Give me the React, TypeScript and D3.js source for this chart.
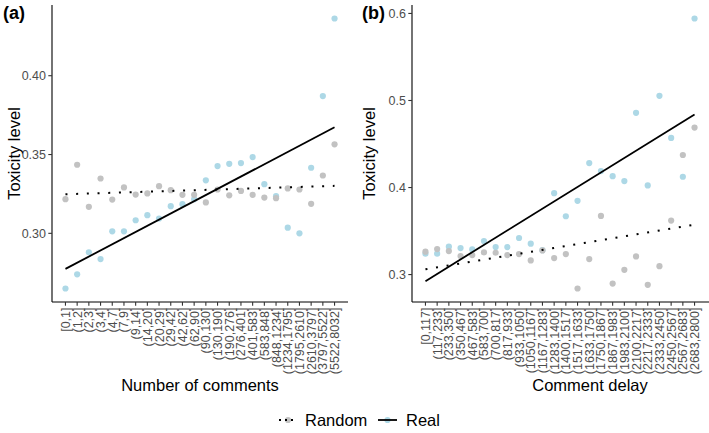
import React from 'react';
import * as d3 from 'd3';

// bins on the x axis
const commentBins = [
  "[0,1]", "(1,2]", "(2,3]", "(3,4]", "(4,7]", "(7,9]", "(9,14]", "(14,20]",
  "(20,29]", "(29,42]", "(42,62]", "(62,90]", "(90,130]", "(130,190]", "(190,276]",
  "(276,401]", "(401,583]", "(583,848]", "(848,1234]", "(1234,1795]", "(1795,2610]",
  "(2610,3797]", "(3797,5522]", "(5522,8032]"
];
const delayBins = [
  "[0,117]", "(117,233]", "(233,350]", "(350,467]", "(467,583]", "(583,700]",
  "(700,817]", "(817,933]", "(933,1050]", "(1050,1167]", "(1167,1283]", "(1283,1400]",
  "(1400,1517]", "(1517,1633]", "(1633,1750]", "(1750,1867]", "(1867,1983]",
  "(1983,2100]", "(2100,2217]", "(2217,2333]", "(2333,2450]", "(2450,2567]",
  "(2567,2683]", "(2683,2800]"
];

// toxicity per bin
const realByComments = [
  0.265, 0.274, 0.288, 0.2837, 0.3013, 0.3013, 0.3083, 0.3115, 0.3094, 0.3172,
  0.3185, 0.3217, 0.3336, 0.3427, 0.3441, 0.3446, 0.3484, 0.3312, 0.3236, 0.3036,
  0.300, 0.3416, 0.3871, 0.4363
];
const randomByComments = [
  0.3217, 0.3435, 0.3168, 0.3348, 0.3214, 0.3291, 0.3246, 0.3253, 0.3299, 0.3274,
  0.3244, 0.3244, 0.3196, 0.3278, 0.3241, 0.3269, 0.3244, 0.3227, 0.3223, 0.3285,
  0.3278, 0.3187, 0.3367, 0.3565
];
const realByDelay = [
  0.324, 0.324, 0.332, 0.3305, 0.3289, 0.3385, 0.3316, 0.3316, 0.342, 0.3355,
  0.328, 0.3935, 0.367, 0.3847, 0.4281, 0.4189, 0.4131, 0.4074, 0.4858, 0.4024,
  0.5054, 0.457, 0.4124, 0.5942
];
const randomByDelay = [
  0.3263, 0.3293, 0.327, 0.3212, 0.3224, 0.3255, 0.3251, 0.3224, 0.3235, 0.3163,
  0.3278, 0.3189, 0.3235, 0.284, 0.3178, 0.3674, 0.2897, 0.3055, 0.3209, 0.2882,
  0.3097, 0.362, 0.4374, 0.4689
];

const yTicksComments = [0.30, 0.35, 0.40];
const yTicksDelay = [0.3, 0.4, 0.5, 0.6];

const W = 709;
const H = 433;
const FONT = "'Liberation Sans', Arial, Helvetica, sans-serif";
const REAL_COLOR = "#add8e6";
const RANDOM_COLOR = "#c2c2c2";
const TEXT_GREY = "#4d4d4d";
const TOP = 5;
const BOTTOM = 302;
const DOTTED = "2 8.7";

// least squares fit against the bin index, like geom_smooth(method = "lm")
function fitLine(values: number[]): [number, number][] {
  const n = values.length;
  const xs = values.map((_, i) => i + 1);
  const mx = d3.mean(xs)!;
  const my = d3.mean(values)!;
  let sxy = 0, sxx = 0;
  xs.forEach((x, i) => {
    sxy += (x - mx) * (values[i] - my);
    sxx += (x - mx) * (x - mx);
  });
  const slope = sxy / sxx;
  const icpt = my - slope * mx;
  return [[1, icpt + slope], [n, icpt + slope * n]];
}

interface PanelProps {
  tag: string;
  tagX: number;
  bins: string[];
  real: number[];
  random: number[];
  yTicks: number[];
  fmt: string;
  left: number;
  right: number;
  axisEnd: number;
  xTitle: string;
  xTitleX: number;
  yTitleX: number;
}

const Panel: React.FC<PanelProps> = ({
  tag, tagX, bins, real, random, yTicks, fmt, left, right, axisEnd, xTitle, xTitleX, yTitleX
}) => {
  const n = bins.length;
  const xPad = (n - 1) * 0.05;
  const x = d3.scaleLinear().domain([1 - xPad, n + xPad]).range([left, right]);

  const [lo, hi] = d3.extent([...real, ...random]) as [number, number];
  const yPad = (hi - lo) * 0.05;
  const y = d3.scaleLinear().domain([lo - yPad, hi + yPad]).range([BOTTOM, TOP]);

  const line = d3.line<[number, number]>().x(d => x(d[0])).y(d => y(d[1]));
  const f = d3.format(fmt);

  return (
    <g>
      <text x={tagX} y={19} fontSize={18} fontWeight="bold" fontFamily={FONT}>{tag}</text>

      {/* y axis */}
      <line x1={left} x2={left} y1={TOP} y2={BOTTOM} stroke="#000" strokeWidth={1.1} />
      {yTicks.map(t => (
        <g key={t}>
          <line x1={left - 3.7} x2={left} y1={y(t)} y2={y(t)} stroke="#333" strokeWidth={1.1} />
          <text x={left - 6} y={y(t)} dy="0.36em" textAnchor="end" fontSize={12.5}
            fill={TEXT_GREY} fontFamily={FONT}>{f(t)}</text>
        </g>
      ))}
      <text transform={`translate(${yTitleX},${(TOP + BOTTOM) / 2}) rotate(-90)`}
        textAnchor="middle" fontSize={16.5} fontFamily={FONT}>Toxicity level</text>

      {/* x axis */}
      <line x1={left} x2={axisEnd} y1={BOTTOM} y2={BOTTOM} stroke="#000" strokeWidth={1.1} />
      {bins.map((b, i) => (
        <g key={b}>
          <line x1={x(i + 1)} x2={x(i + 1)} y1={BOTTOM} y2={BOTTOM + 3.7} stroke="#333" strokeWidth={1.1} />
          <text transform={`translate(${x(i + 1)},${BOTTOM + 5.5}) rotate(-90)`} dy="0.36em"
            textAnchor="end" fontSize={12.5} fill={TEXT_GREY} fontFamily={FONT}>{b}</text>
        </g>
      ))}
      <text x={xTitleX} y={391} textAnchor="middle" fontSize={16.5} fontFamily={FONT}>{xTitle}</text>

      {/* points */}
      {real.map((v, i) => (
        <circle key={`r${i}`} cx={x(i + 1)} cy={y(v)} r={3.1} fill={REAL_COLOR} />
      ))}
      {random.map((v, i) => (
        <circle key={`n${i}`} cx={x(i + 1)} cy={y(v)} r={3.1} fill={RANDOM_COLOR} />
      ))}

      {/* linear fits */}
      <path d={line(fitLine(random))!} fill="none" stroke="#000" strokeWidth={2}
        strokeDasharray={DOTTED} />
      <path d={line(fitLine(real))!} fill="none" stroke="#000" strokeWidth={1.8} />
    </g>
  );
};

export default function App() {
  const legendY = 420;
  return (
    <svg width={W} height={H} style={{ position: 'absolute', left: 0, top: 0, background: '#fff' }}>
      <Panel tag="(a)" tagX={3} bins={commentBins} real={realByComments} random={randomByComments}
        yTicks={yTicksComments} fmt=".2f" left={52} right={348} axisEnd={348}
        xTitle="Number of comments" xTitleX={200} yTitleX={20} />
      <Panel tag="(b)" tagX={362} bins={delayBins} real={realByDelay} random={randomByDelay}
        yTicks={yTicksDelay} fmt=".1f" left={412} right={708} axisEnd={709}
        xTitle="Comment delay" xTitleX={590} yTitleX={375} />

      {/* legend */}
      <g fontFamily={FONT} fontSize={16.5}>
        <circle cx={288} cy={legendY} r={3.1} fill={RANDOM_COLOR} />
        <line x1={279} x2={297} y1={legendY} y2={legendY} stroke="#000" strokeWidth={2}
          strokeDasharray="2 4" />
        <text x={305} y={legendY} dy="0.36em">Random</text>
        <circle cx={387.5} cy={legendY} r={3.1} fill={REAL_COLOR} />
        <line x1={378} x2={397} y1={legendY} y2={legendY} stroke="#000" strokeWidth={1.8} />
        <text x={406} y={legendY} dy="0.36em">Real</text>
      </g>
    </svg>
  );
}
